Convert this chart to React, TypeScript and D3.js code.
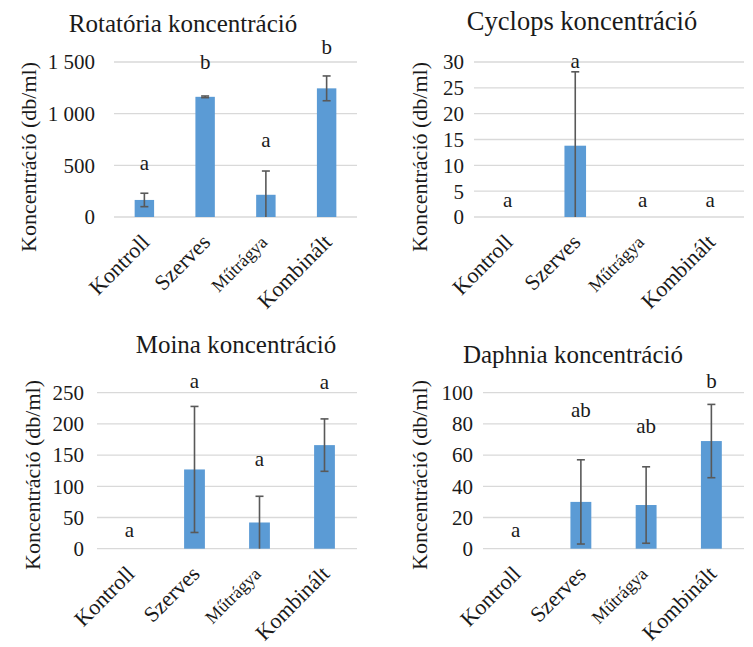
import React from "react";
import * as d3 from "d3";

const categories = ["Kontroll", "Szerves", "Műtrágya", "Kombinált"];

const rotTitle = "Rotatória koncentráció";
const rotValues = [165, 1163, 215, 1245];
const rotErrors = [65, 8, 230, 120];
const rotLetters = ["a", "b", "a", "b"];
const rotLetterY = [530, 1500, 745, 1645];
const rotTicks = [0, 500, 1000, 1500];

const cycTitle = "Cyclops koncentráció";
const cycValues = [0, 13.8, 0, 0];
const cycErrors = [0, 14.3, 0, 0];
const cycLetters = ["a", "a", "a", "a"];
const cycLetterY = [3.3, 30.2, 3.3, 3.3];
const cycTicks = [0, 5, 10, 15, 20, 25, 30];

const moiTitle = "Moina koncentráció";
const moiValues = [0, 127, 42, 166];
const moiErrors = [0, 101, 42, 42];
const moiLetters = ["a", "a", "a", "a"];
const moiLetterY = [30, 270, 144, 268];
const moiTicks = [0, 50, 100, 150, 200, 250];

const dapTitle = "Daphnia koncentráció";
const dapValues = [0, 30, 28, 69];
const dapErrors = [0, 27, 24.5, 23.5];
const dapLetters = ["a", "ab", "ab", "b"];
const dapLetterY = [12, 89, 79, 108];
const dapTicks = [0, 20, 40, 60, 80, 100];

const FONT = "Liberation Serif, Times New Roman, DejaVu Serif, serif";
const BAR = "#5B9BD5";
const ERR = "#595959";
const GRID = "#D9D9D9";
const TXT = "#1a1a1a";

type PanelProps = {
  title: string;
  titleSize: number;
  values: number[];
  errors: number[];
  letters: string[];
  letterY: number[];
  ticks: number[];
  fmt: (v: number) => string;
  x0: number;
  x1: number;
  yTop: number;
  yBottom: number;
  titleX: number;
  titleY: number;
  tickX: number;
  axisTitleX: number;
  axisTitleY: number;
};

const ts = (size: number): React.CSSProperties => ({ fontFamily: FONT, fontSize: size + "px" });

function Panel(p: PanelProps) {
  const max = p.ticks[p.ticks.length - 1];
  const x = d3.scaleBand<string>().domain(categories).range([p.x0, p.x1]).paddingInner(0.68).paddingOuter(0.34);
  const y = d3.scaleLinear().domain([0, max]).range([p.yBottom, p.yTop]);
  const bw = x.bandwidth();
  return (
    <g>
      <text x={p.titleX} y={p.titleY} textAnchor="middle" style={ts(p.titleSize)} fill={TXT}>
        {p.title}
      </text>
      {p.ticks.map((t) => (
        <g key={t}>
          <line x1={p.x0} x2={p.x1} y1={y(t)} y2={y(t)} stroke={GRID} strokeWidth={1.3} />
          <text x={p.tickX} y={y(t)} dy="0.35em" textAnchor="end" style={ts(21)} fill={TXT}>
            {p.fmt(t)}
          </text>
        </g>
      ))}
      <text
        transform={`translate(${p.axisTitleX},${p.axisTitleY}) rotate(-90)`}
        textAnchor="middle"
        dy="0.35em"
        style={ts(22)}
        fill={TXT}
      >
        Koncentráció (db/ml)
      </text>
      {categories.map((c, i) => {
        const cx = (x(c) as number) + bw / 2;
        const v = p.values[i];
        const e = p.errors[i];
        const hi = v + e;
        const lo = Math.max(0, v - e);
        return (
          <g key={c}>
            {v > 0 && (
              <rect x={x(c)} width={bw} y={y(v)} height={y(0) - y(v)} fill={BAR} />
            )}
            {e > 0 && (
              <g stroke={ERR} strokeWidth={1.6}>
                <line x1={cx} x2={cx} y1={y(hi)} y2={y(lo)} />
                <line x1={cx - 4} x2={cx + 4} y1={y(hi)} y2={y(hi)} />
                {v - e > 0 && <line x1={cx - 4} x2={cx + 4} y1={y(lo)} y2={y(lo)} />}
              </g>
            )}
            <text x={cx} y={y(p.letterY[i])} dy="0.35em" textAnchor="middle" style={ts(21)} fill={TXT}>
              {p.letters[i]}
            </text>
            <text
              transform={`translate(${cx + (i === 2 ? -2 : 1)},${p.yBottom + (i === 2 ? 22 : 21)}) rotate(-45)`}
              textAnchor="end"
              dy="0.35em"
              style={ts(i === 2 ? 18 : 22)}
              fill={TXT}
            >
              {c}
            </text>
          </g>
        );
      })}
    </g>
  );
}

const fmtSpace = (v: number) => d3.format(",")(v).replace(/,/g, " ");
const fmtPlain = (v: number) => String(v);

export default function App() {
  return (
    <svg width={753} height={647} style={{ position: "absolute", left: 0, top: 0, background: "#fff" }}>
      <rect width={753} height={647} fill="#fff" />
      <Panel
        title={rotTitle} titleSize={25} values={rotValues} errors={rotErrors} letters={rotLetters} letterY={rotLetterY}
        ticks={rotTicks} fmt={fmtSpace}
        x0={114} x1={357} yTop={62} yBottom={217}
        titleX={183} titleY={32} tickX={95} axisTitleX={28} axisTitleY={157}
      />
      <Panel
        title={cycTitle} titleSize={26.5} values={cycValues} errors={cycErrors} letters={cycLetters} letterY={cycLetterY}
        ticks={cycTicks} fmt={fmtPlain}
        x0={474} x1={744} yTop={62} yBottom={217}
        titleX={582} titleY={30} tickX={464} axisTitleX={419} axisTitleY={157}
      />
      <Panel
        title={moiTitle} titleSize={25} values={moiValues} errors={moiErrors} letters={moiLetters} letterY={moiLetterY}
        ticks={moiTicks} fmt={fmtPlain}
        x0={97} x1={357} yTop={392.7} yBottom={548.7}
        titleX={236} titleY={353} tickX={84} axisTitleX={32} axisTitleY={475}
      />
      <Panel
        title={dapTitle} titleSize={25} values={dapValues} errors={dapErrors} letters={dapLetters} letterY={dapLetterY}
        ticks={dapTicks} fmt={fmtPlain}
        x0={483} x1={744} yTop={392.7} yBottom={548.7}
        titleX={573} titleY={363} tickX={473} axisTitleX={419} axisTitleY={475}
      />
    </svg>
  );
}
